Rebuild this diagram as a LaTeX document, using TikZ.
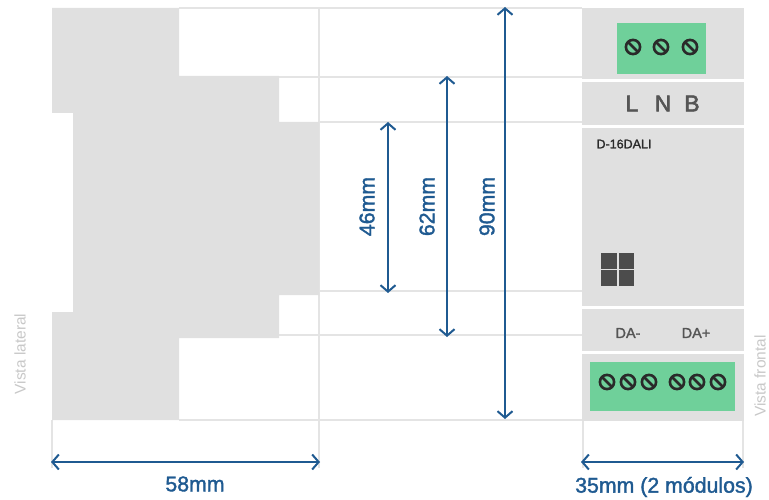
\documentclass[tikz,border=0pt]{standalone}
\usepackage{fontspec}
\setmainfont{Liberation Sans}
\newfontfamily\medfont[FakeBold=1.6]{Liberation Sans}
\newfontfamily\strongfont[FakeBold=2.4]{Liberation Sans}
\usetikzlibrary{arrows.meta}
\definecolor{panel}{HTML}{E0E0E0}
\definecolor{guide}{HTML}{E4E4E4}
\definecolor{dimblue}{HTML}{1F5A91}
\definecolor{termgreen}{HTML}{6FD09A}
\definecolor{screwink}{HTML}{2A2A2A}
\definecolor{labelink}{HTML}{555555}
\definecolor{viewgrey}{HTML}{C8C8C8}
\tikzset{
  guideline/.style={draw=guide,line width=1.5pt},
  dimline/.style={draw=dimblue,line width=2pt,{Straight Barb[length=6.5pt,width=15pt,line width=2pt]}-{Straight Barb[length=6.5pt,width=15pt,line width=2pt]}},
  dimtext/.style={text=dimblue,font=\medfont\fontsize{21.3}{21}\selectfont,inner sep=0pt},
  paneltext/.style={text=labelink,font=\medfont\fontsize{14.5}{14}\selectfont,inner sep=0pt},
  viewtext/.style={text=viewgrey,font=\fontsize{15.5}{15}\selectfont,inner sep=0pt,rotate=90},
  panelblock/.style={fill=panel,draw=none},
  terminal/.style={fill=termgreen,draw=none},
  screw/.pic={
    \draw[screwink,line width=2.6pt] (0,0) circle (7.1);
    \draw[screwink,line width=2.6pt] (-5,-5) -- (5,5);
  }
}
\begin{document}
\begin{tikzpicture}[x=1pt,y=-1pt]
\useasboundingbox (0,0) rectangle (769,500);
% guide lines
\draw[guideline] (179,8) -- (582,8);
\draw[guideline] (279,77) -- (582,77);
\draw[guideline] (319,122) -- (582,122);
\draw[guideline] (319,291) -- (582,291);
\draw[guideline] (279,335) -- (582,335);
\draw[guideline] (179,420) -- (582,420);
\draw[guideline] (319,8) -- (319,468);
\draw[guideline] (52,420) -- (52,468);
\draw[guideline] (583,420) -- (583,468);
\draw[guideline] (743,420) -- (743,468);
% side view
\fill[panel] (52,8) -- (179,8) -- (179,76) -- (279,76) -- (279,122) -- (319,122)
  -- (319,295) -- (279,295) -- (279,338) -- (179,338) -- (179,420) -- (52,420)
  -- (52,312) -- (73,312) -- (73,113) -- (52,113) -- cycle;
% front view
\fill[panelblock] (582,8) rectangle (744,79);
\fill[panelblock] (582,82) rectangle (744,125);
\fill[panelblock] (582,128) rectangle (744,306);
\fill[panelblock] (582,309) rectangle (744,351);
\fill[panelblock] (582,354) rectangle (744,421);
\fill[terminal] (617,23) rectangle (706,74);
\fill[terminal] (590,362) rectangle (735,411);
\foreach \x in {633,661,690} \pic at (\x,47) {screw};
\foreach \x in {607,628,649,677,697,718} \pic at (\x,382) {screw};
\fill[labelink!90!black] (601,253) rectangle (617,268.5);
\fill[labelink!90!black] (618.5,253) rectangle (634,268.5);
\fill[labelink!90!black] (601,270) rectangle (617,285.5);
\fill[labelink!90!black] (618.5,270) rectangle (634,285.5);
\node[paneltext,font=\strongfont\fontsize{23}{23}\selectfont] (tL) at (632,103.5) {L};
\node[paneltext,font=\strongfont\fontsize{23}{23}\selectfont] (tN) at (663,103.5) {N};
\node[paneltext,font=\strongfont\fontsize{23}{23}\selectfont] (tB) at (692,103.5) {B};
\node[paneltext,text=screwink,font=\medfont\fontsize{12.5}{12}\selectfont] (model) at (624,144) {D-16DALI};
\node[paneltext] (tDAm) at (628,333) {DA-};
\node[paneltext] (tDAp) at (696,333) {DA+};
% view labels
\node[viewtext] (vl) at (20,354) {Vista lateral};
\node[viewtext] (vf) at (760,376) {Vista frontal};
% dimension anchors
\coordinate (a46t) at (388,122); \coordinate (a46b) at (388,293);
\coordinate (a62t) at (447,76);  \coordinate (a62b) at (447,337);
\coordinate (a90t) at (505,7);   \coordinate (a90b) at (505,419);
\coordinate (a58l) at (51,462);  \coordinate (a58r) at (320,462);
\coordinate (a35l) at (581,462); \coordinate (a35r) at (744,462);
\draw[dimline] (a46t) -- (a46b);
\draw[dimline] (a62t) -- (a62b);
\draw[dimline] (a90t) -- (a90b);
\draw[dimline] (a58l) -- (a58r);
\draw[dimline] (a35l) -- (a35r);
\node[dimtext,rotate=90] (d46) at (367,206.5) {46mm};
\node[dimtext,rotate=90] (d62) at (427,206.5) {62mm};
\node[dimtext,rotate=90] (d90) at (487,206.5) {90mm};
\node[dimtext] (d58) at (195,484) {58mm};
\node[dimtext] (d35) at (664,487) {35mm (2 módulos)};
\end{tikzpicture}
\end{document}
